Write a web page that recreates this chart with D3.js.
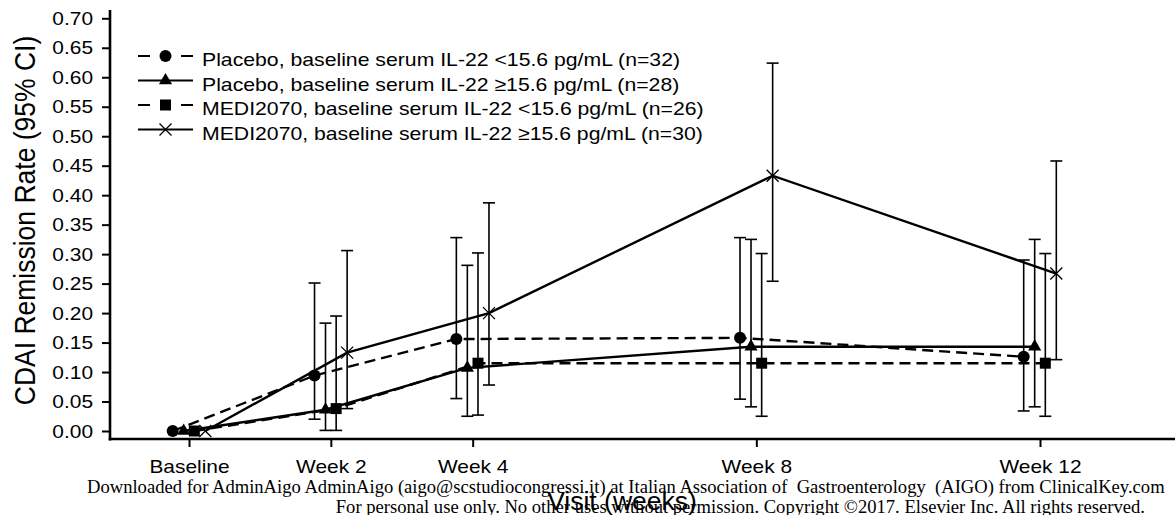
<!DOCTYPE html>
<html>
<head>
<meta charset="utf-8">
<script src="https://cdn.jsdelivr.net/npm/d3@7"></script>
<style>
  html, body { margin: 0; padding: 0; background: #fff; }
  svg { display: block; }
  text { font-family: "Liberation Sans", Arial, sans-serif; fill: #000; }
  text.note { font-family: "Liberation Serif", "Times New Roman", serif; }
</style>
</head>
<body>
<svg id="chart" width="1175" height="515"></svg>
<script>
// visits on the x axis
var visits = ["Baseline", "Week 2", "Week 4", "Week 8", "Week 12"];
var weeks = [0, 2, 4, 8, 12];
var yTicks = [0, 0.05, 0.10, 0.15, 0.20, 0.25, 0.30, 0.35, 0.40, 0.45, 0.50, 0.55, 0.60, 0.65, 0.70];

var seriesNames = [
  "Placebo, baseline serum IL-22 <15.6 pg/mL (n=32)",
  "Placebo, baseline serum IL-22 \u226515.6 pg/mL (n=28)",
  "MEDI2070, baseline serum IL-22 <15.6 pg/mL (n=26)",
  "MEDI2070, baseline serum IL-22 \u226515.6 pg/mL (n=30)"
];

// remission rate and 95% CI (no CI at baseline)
var placeboLow      = [0, 0.094, 0.156, 0.158, 0.126];
var placeboLowLo    = [null, 0.020, 0.055, 0.054, 0.034];
var placeboLowHi    = [null, 0.251, 0.328, 0.328, 0.290];

var placeboHigh     = [0, 0.036, 0.107, 0.143, 0.143];
var placeboHighLo   = [null, 0.001, 0.025, 0.041, 0.041];
var placeboHighHi   = [null, 0.183, 0.281, 0.325, 0.325];

var mediLow         = [0, 0.038, 0.115, 0.115, 0.115];
var mediLowLo       = [null, 0.001, 0.027, 0.025, 0.025];
var mediLowHi       = [null, 0.195, 0.302, 0.301, 0.301];

var mediHigh        = [0, 0.133, 0.200, 0.433, 0.267];
var mediHighLo      = [null, 0.038, 0.078, 0.254, 0.121];
var mediHighHi      = [null, 0.306, 0.387, 0.624, 0.458];

var series = [
  { name: seriesNames[0], v: placeboLow,  lo: placeboLowLo,  hi: placeboLowHi,  mark: "circle",   dash: true,  off: -0.23 },
  { name: seriesNames[1], v: placeboHigh, lo: placeboHighLo, hi: placeboHighHi, mark: "triangle", dash: false, off: -0.075 },
  { name: seriesNames[2], v: mediLow,     lo: mediLowLo,     hi: mediLowHi,     mark: "square",   dash: true,  off: 0.075 },
  { name: seriesNames[3], v: mediHigh,    lo: mediHighLo,    hi: mediHighHi,    mark: "cross",    dash: false, off: 0.23 }
];

var SX = 1.1;   // the original figure's text is slightly wider than Arial
var FS = 19;

function stretch(sel, k) {
  sel.each(function () {
    var w = this.getComputedTextLength();
    d3.select(this).attr("textLength", w * k).attr("lengthAdjust", "spacingAndGlyphs");
  });
}

var svg = d3.select("#chart");

var x = d3.scaleLinear().domain([0, 12]).range([189, 1040]);
var y = d3.scaleLinear().domain([0, 0.70]).range([431, 18.3]);

// y axis
var gy = svg.append("g").attr("transform", "translate(110,0)")
  .call(d3.axisLeft(y).tickValues(yTicks).tickFormat(d3.format(".2f")).tickSize(8).tickPadding(9));
gy.select(".domain").remove();
gy.selectAll(".tick line").attr("stroke", "#000").attr("stroke-width", 2);
gy.selectAll("text").style("font-size", FS + "px").call(stretch, SX);
svg.append("line").attr("x1", 110).attr("x2", 110).attr("y1", 10).attr("y2", 440.5)
  .attr("stroke", "#000").attr("stroke-width", 2.6);

// x axis
var gx = svg.append("g").attr("transform", "translate(0,439)")
  .call(d3.axisBottom(x).tickValues(weeks).tickFormat(function (d, i) { return visits[i]; }).tickSize(8).tickPadding(13));
gx.select(".domain").remove();
gx.selectAll(".tick line").attr("stroke", "#000").attr("stroke-width", 2);
gx.selectAll("text").style("font-size", FS + "px").call(stretch, SX);
svg.append("line").attr("x1", 108.7).attr("x2", 1175).attr("y1", 439).attr("y2", 439)
  .attr("stroke", "#000").attr("stroke-width", 2.6);

// error bars
var cap = 6;
series.forEach(function (s) {
  var g = svg.append("g").attr("stroke", "#000").attr("stroke-width", 1.6).attr("fill", "none");
  weeks.forEach(function (w, i) {
    if (s.lo[i] == null) return;
    var cx = x(w + s.off);
    g.append("line").attr("x1", cx).attr("x2", cx).attr("y1", y(s.lo[i])).attr("y2", y(s.hi[i]));
    g.append("line").attr("x1", cx - cap).attr("x2", cx + cap).attr("y1", y(s.lo[i])).attr("y2", y(s.lo[i]));
    g.append("line").attr("x1", cx - cap).attr("x2", cx + cap).attr("y1", y(s.hi[i])).attr("y2", y(s.hi[i]));
  });
});

// lines
var line = d3.line().x(function (d) { return x(d.w + d.off); }).y(function (d) { return y(d.v); });
series.forEach(function (s) {
  var pts = weeks.map(function (w, i) { return { w: w, off: s.off, v: s.v[i] }; });
  svg.append("path").attr("d", line(pts)).attr("fill", "none").attr("stroke", "#000")
    .attr("stroke-width", 2.4).attr("stroke-dasharray", s.dash ? "11,6" : null);
});

// markers
function drawMark(g, type, cx, cy) {
  if (type === "circle") {
    g.append("circle").attr("cx", cx).attr("cy", cy).attr("r", 6).attr("fill", "#000");
  } else if (type === "triangle") {
    g.append("path").attr("transform", "translate(" + cx + "," + cy + ")")
      .attr("d", d3.symbol().type(d3.symbolTriangle).size(75)()).attr("fill", "#000");
  } else if (type === "square") {
    g.append("rect").attr("x", cx - 5.5).attr("y", cy - 5.5).attr("width", 11).attr("height", 11).attr("fill", "#000");
  } else {
    g.append("path").attr("d", "M" + (cx - 6) + "," + (cy - 6) + "L" + (cx + 6) + "," + (cy + 6) +
      "M" + (cx - 6) + "," + (cy + 6) + "L" + (cx + 6) + "," + (cy - 6))
      .attr("stroke", "#000").attr("stroke-width", 1.3).attr("fill", "none");
  }
}
series.forEach(function (s) {
  var g = svg.append("g");
  weeks.forEach(function (w, i) { drawMark(g, s.mark, x(w + s.off), y(s.v[i])); });
});

// legend
var legendRows = [66, 90.5, 115, 139.5];
var lg = svg.append("g");
series.forEach(function (s, i) {
  var ly = legendRows[i] - 10;
  lg.append("line").attr("x1", 138).attr("x2", 193).attr("y1", ly).attr("y2", ly)
    .attr("stroke", "#000").attr("stroke-width", 2.2).attr("stroke-dasharray", s.dash ? "12,31" : null);
  drawMark(lg, s.mark, 165.5, ly);
  lg.append("text").attr("x", 202).attr("y", legendRows[i]).style("font-size", FS + "px").text(s.name)
    .call(stretch, SX * 1.015);
});

// axis titles
svg.append("text").attr("transform", "translate(35,220.5) scale(1.1,1) rotate(-90)")
  .attr("text-anchor", "middle").style("font-size", "26.5px").text("CDAI Remission Rate (95% CI)");

// watermark lines from the source page
svg.append("text").attr("class", "note").attr("x", 87).attr("y", 493).style("font-size", "18.6px")
  .text("Downloaded for AdminAigo AdminAigo (aigo@scstudiocongressi.it) at Italian Association of  Gastroenterology  (AIGO) from ClinicalKey.com")
  .attr("xml:space", "preserve");
svg.append("text").attr("x", 622).attr("y", 510).attr("text-anchor", "middle")
  .style("font-size", "26.5px").text("Visit (weeks)");
svg.append("text").attr("class", "note").attr("x", 1145).attr("y", 513).attr("text-anchor", "end")
  .style("font-size", "18.6px")
  .text("For personal use only. No other uses without permission. Copyright \u00a92017. Elsevier Inc. All rights reserved.");
</script>
</body>
</html>
